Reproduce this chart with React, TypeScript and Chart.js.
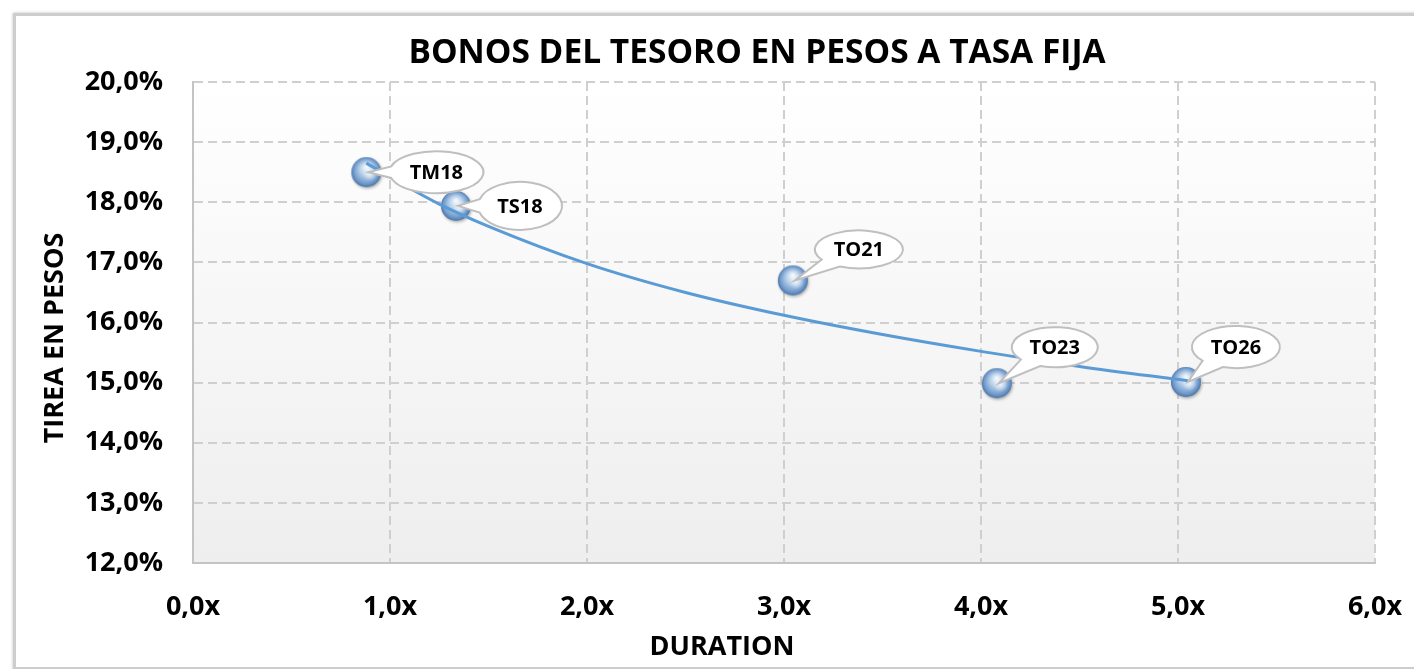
import React, { useEffect, useRef } from 'react';
import { Chart, registerables } from 'chart.js';

Chart.register(...registerables);

// ---- data ----
const bondNames = ['TM18', 'TS18', 'TO21', 'TO23', 'TO26'];
const durations = [0.88, 1.335, 3.045, 4.08, 5.04];
const yields = [18.5, 17.94, 16.7, 14.99, 15.01];
const trendDurations = [0.88, 1.0, 1.25, 1.5, 2.0, 2.5, 3.0, 3.5, 4.0, 4.5, 5.05];
const trendYields = [18.65, 18.42, 17.97, 17.6, 16.98, 16.5, 16.12, 15.8, 15.52, 15.27, 15.03];
const xRange = [0, 6];
const yRange = [12, 20];
const chartTitle = 'BONOS DEL TESORO EN PESOS A TASA FIJA';
const xTitle = 'DURATION';
const yTitle = 'TIREA EN PESOS';

// ---- style ----
const FONT = '"Open Sans", "DejaVu Sans", sans-serif';
// callout ellipse centre offsets (px) from the marker and radii
const calloutStyle = [
  { dx: 70, dy: 0, rx: 47, ry: 21 },
  { dx: 64, dy: 0, rx: 42, ry: 24 },
  { dx: 66, dy: -31, rx: 44, ry: 19 },
  { dx: 58, dy: -36, rx: 43, ry: 20 },
  { dx: 50, dy: -35, rx: 44, ry: 21 },
];

function makeSphere(r: number): HTMLCanvasElement {
  const s = Math.ceil(r * 2 + 8);
  const c = document.createElement('canvas');
  c.width = s;
  c.height = s;
  const ctx = c.getContext('2d')!;
  const cx = s / 2;
  const cy = s / 2;
  ctx.save();
  ctx.shadowColor = 'rgba(0,0,0,0.3)';
  ctx.shadowBlur = 3;
  ctx.shadowOffsetX = 1;
  ctx.shadowOffsetY = 1.5;
  const g = ctx.createRadialGradient(cx, cy - r * 0.35, 1, cx, cy, r * 1.05);
  g.addColorStop(0, '#f2f7fc');
  g.addColorStop(0.4, '#b4cde9');
  g.addColorStop(0.8, '#6e98c9');
  g.addColorStop(1, '#3f6a9f');
  ctx.fillStyle = g;
  ctx.beginPath();
  ctx.arc(cx, cy, r, 0, Math.PI * 2);
  ctx.fill();
  ctx.restore();
  // soft highlight
  const h = ctx.createRadialGradient(cx + r * 0.25, cy + r * 0.1, 0, cx + r * 0.25, cy + r * 0.1, r * 0.5);
  h.addColorStop(0, 'rgba(255,255,255,0.75)');
  h.addColorStop(1, 'rgba(255,255,255,0)');
  ctx.fillStyle = h;
  ctx.beginPath();
  ctx.arc(cx, cy, r, 0, Math.PI * 2);
  ctx.fill();
  return c;
}

const fmt = (v: number, suffix: string) => v.toFixed(1).replace('.', ',') + suffix;

export default function App() {
  const ref = useRef<HTMLCanvasElement>(null);

  useEffect(() => {
    if (!ref.current) return;
    const sphere = makeSphere(15);

    const decor = {
      id: 'decor',
      beforeDraw(chart: any) {
        const { ctx, chartArea } = chart;
        const { left, top, right, bottom } = chartArea;
        ctx.save();
        const g = ctx.createLinearGradient(0, top, 0, bottom);
        g.addColorStop(0, '#ffffff');
        g.addColorStop(1, '#eeeeee');
        ctx.fillStyle = g;
        ctx.fillRect(left, top, right - left, bottom - top);
        ctx.restore();
      },
      afterDatasetsDraw(chart: any) {
        const { ctx, scales } = chart;
        ctx.save();
        bondNames.forEach((name, i) => {
          const px = scales.x.getPixelForValue(durations[i]);
          const py = scales.y.getPixelForValue(yields[i]);
          const st = calloutStyle[i];
          const cx = px + st.dx;
          const cy = py + st.dy;
          const tx = px + 2;
          const ty = py;
          const th = Math.atan2((ty - cy) / st.ry, (tx - cx) / st.rx);
          const d = 0.28;
          ctx.beginPath();
          ctx.ellipse(cx, cy, st.rx, st.ry, 0, th + d, th - d + Math.PI * 2);
          ctx.lineTo(tx, ty);
          ctx.closePath();
          ctx.fillStyle = '#ffffff';
          ctx.fill();
          ctx.lineWidth = 2;
          ctx.strokeStyle = '#bfbfbf';
          ctx.stroke();
          ctx.fillStyle = '#000000';
          ctx.font = `bold 20px ${FONT}`;
          ctx.textAlign = 'center';
          ctx.textBaseline = 'middle';
          ctx.fillText(name, cx, cy + 1);
        });
        ctx.restore();
      },
      afterDraw(chart: any) {
        const { ctx } = chart;
        ctx.save();
        ctx.fillStyle = '#000000';
        ctx.textBaseline = 'alphabetic';
        ctx.textAlign = 'center';
        ctx.font = `bold 33.5px ${FONT}`;
        ctx.fillText(chartTitle, 757, 63);
        ctx.font = `bold 27px ${FONT}`;
        ctx.fillText(xTitle, 722, 655);
        ctx.translate(63, 338);
        ctx.rotate(-Math.PI / 2);
        ctx.fillText(yTitle, 0, 0);
        ctx.restore();
      },
    };

    const chart = new Chart(ref.current, {
      type: 'scatter',
      data: {
        datasets: [
          {
            type: 'line',
            label: 'Tendencia',
            data: trendDurations.map((x, i) => ({ x, y: trendYields[i] })),
            borderColor: '#5b9bd5',
            borderWidth: 3,
            pointRadius: 0,
            fill: false,
            tension: 0.4,
            cubicInterpolationMode: 'monotone',
            order: 0,
          } as any,
          {
            label: 'Bonos',
            data: durations.map((x, i) => ({ x, y: yields[i] })),
            pointStyle: sphere as any,
            pointRadius: 15,
            order: 1,
          },
        ],
      },
      options: {
        animation: false,
        responsive: false,
        devicePixelRatio: 1,
        layout: { padding: { left: 0, top: 82, right: 39, bottom: 0 } },
        plugins: {
          legend: { display: false },
          title: { display: false },
          tooltip: { enabled: false },
        },
        scales: {
          x: {
            type: 'linear',
            min: xRange[0],
            max: xRange[1],
            afterFit: (s: any) => {
              s.height = 669 - 563;
              s.paddingLeft = 0;
              s.paddingRight = 0;
            },
            ticks: {
              stepSize: 1,
              padding: 28,
              color: '#000000',
              font: { family: FONT, size: 27, weight: 'bold' },
              callback: (v: any) => fmt(Number(v), 'x'),
            },
            grid: {
              color: '#cfcfcf',
              lineWidth: 2,
              drawTicks: false,
            },
            border: { display: true, color: '#c4c4c4', width: 2, dash: [9, 5] },
          },
          y: {
            type: 'linear',
            min: yRange[0],
            max: yRange[1],
            afterFit: (s: any) => {
              s.width = 193;
              s.paddingTop = 0;
              s.paddingBottom = 0;
            },
            ticks: {
              stepSize: 1,
              padding: 30,
              color: '#000000',
              font: { family: FONT, size: 27, weight: 'bold' },
              callback: (v: any) => fmt(Number(v), '%'),
            },
            grid: {
              color: '#cfcfcf',
              lineWidth: 2,
              drawTicks: false,
            },
            border: { display: true, color: '#c4c4c4', width: 2, dash: [9, 5] },
          },
        },
      } as any,
      plugins: [decor],
    });
    return () => chart.destroy();
  }, []);

  return (
    <div style={{ position: 'absolute', left: 0, top: 0, width: 1414, height: 669, overflow: 'hidden', background: '#ffffff' }}>
      <div
        style={{
          position: 'absolute',
          left: 13,
          top: 13,
          width: 1500,
          height: 651,
          border: '3px solid #cdcdcd',
          boxShadow: '0 0 3px rgba(0,0,0,0.25)',
          background: '#ffffff',
        }}
      />
      <canvas ref={ref} width={1414} height={669} style={{ position: 'absolute', left: 0, top: 0, width: 1414, height: 669 }} />
    </div>
  );
}
